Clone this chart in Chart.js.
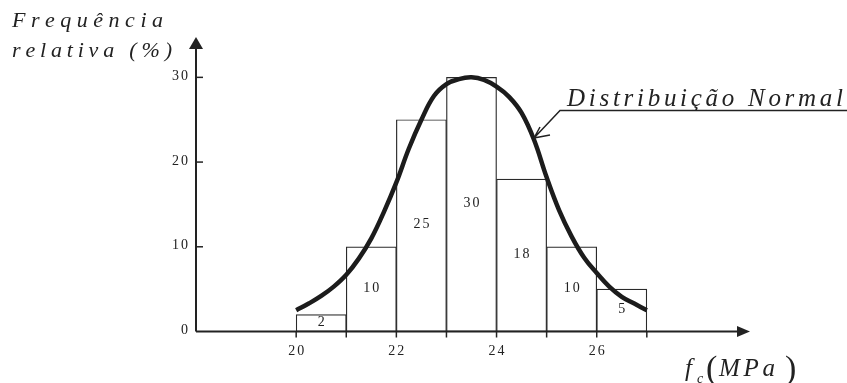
<!DOCTYPE html>
<html>
<head>
<meta charset="utf-8">
<script src="https://cdn.jsdelivr.net/npm/chart.js@4.4.0/dist/chart.umd.min.js"></script>
<style>
  html, body { margin: 0; padding: 0; background: #fff; }
</style>
</head>
<body>
<canvas id="chart" width="847" height="383"></canvas>
<script>
// histogram (fc classes, 1 MPa wide) and the normal curve
const binCenters = [20.5, 21.5, 22.5, 23.5, 24.5, 25.5, 26.5];
const binValues = [2, 10, 25, 30, 18, 10, 5];
const curveX = [20, 20.25, 20.5, 20.75, 21, 21.25, 21.5, 21.75, 22, 22.25, 22.5, 22.75, 23, 23.25, 23.5,
                23.75, 24, 24.25, 24.5, 24.75, 25, 25.25, 25.5, 25.75, 26, 26.25, 26.5, 26.75, 27];
const curveY = [2.5, 3.3, 4.2, 5.3, 6.7, 8.6, 11.0, 14.1, 17.6, 21.6, 25.0, 27.8, 29.2, 29.8, 30,
                29.7, 28.9, 27.7, 25.8, 22.6, 18.2, 14.3, 11.2, 8.7, 6.9, 5.3, 4.1, 3.3, 2.5];
const yTicks = [0, 10, 20, 30];
const xTicks = [20, 21, 22, 23, 24, 25, 26, 27];
const xTickLabels = ['20', '', '22', '', '24', '', '26', ''];

const INK = '#222';
const SERIF = "'Liberation Serif', 'DejaVu Serif', serif";

// draw text one char at a time so we get the wide spacing of the original
function spaced(ctx, str, x, y, gap, align) {
  const chars = [...str];
  let w = 0;
  chars.forEach((ch, i) => { w += ctx.measureText(ch).width + (i < chars.length - 1 ? gap : 0); });
  let cx = x;
  if (align === 'center') cx = x - w / 2;
  if (align === 'right') cx = x - w;
  const saved = ctx.textAlign;
  ctx.textAlign = 'left';
  chars.forEach(ch => { ctx.fillText(ch, cx, y); cx += ctx.measureText(ch).width + gap; });
  ctx.textAlign = saved;
  return w;
}

// same, but spread the letters so the word covers a given width
function spread(ctx, str, x, y, width) {
  const chars = [...str];
  let w = 0;
  chars.forEach(ch => { w += ctx.measureText(ch).width; });
  const gap = (width - w) / (chars.length - 1);
  return spaced(ctx, str, x, y, gap, 'left');
}

const decorations = {
  id: 'decorations',
  afterDraw(chart) {
    const { ctx, chartArea, scales } = chart;
    const xs = scales.x, ys = scales.y;
    const left = chartArea.left, bottom = chartArea.bottom;

    ctx.save();
    ctx.strokeStyle = INK;
    ctx.fillStyle = INK;

    // axes with arrow heads
    ctx.lineWidth = 2;
    ctx.beginPath();
    ctx.moveTo(left, bottom);
    ctx.lineTo(left, chartArea.top + 10);
    ctx.moveTo(left, bottom);
    ctx.lineTo(chartArea.right - 8, bottom);
    ctx.stroke();

    ctx.beginPath();
    ctx.moveTo(left, chartArea.top + 2);
    ctx.lineTo(left - 7, chartArea.top + 14);
    ctx.lineTo(left + 7, chartArea.top + 14);
    ctx.closePath();
    ctx.fill();

    ctx.beginPath();
    ctx.moveTo(chartArea.right + 3, bottom);
    ctx.lineTo(chartArea.right - 10, bottom - 5.5);
    ctx.lineTo(chartArea.right - 10, bottom + 5.5);
    ctx.closePath();
    ctx.fill();

    // y ticks + labels
    ctx.font = '14px ' + SERIF;
    ctx.textBaseline = 'middle';
    ctx.lineWidth = 1.5;
    yTicks.forEach(v => {
      const py = ys.getPixelForValue(v);
      if (v !== 0) {
        ctx.beginPath();
        ctx.moveTo(left, py);
        ctx.lineTo(left + 7, py);
        ctx.stroke();
      }
      spaced(ctx, String(v), left - 8, py - 1, 2, 'right');
    });

    // x ticks + labels
    xTicks.forEach((v, i) => {
      const px = xs.getPixelForValue(v);
      ctx.beginPath();
      ctx.moveTo(px, bottom);
      ctx.lineTo(px, bottom + 6);
      ctx.stroke();
      if (xTickLabels[i]) spaced(ctx, xTickLabels[i], px, bottom + 20, 2, 'center');
    });

    // values inside the bars
    binCenters.forEach((c, i) => {
      const px = xs.getPixelForValue(c);
      const py = ys.getPixelForValue(binValues[i] / 2);
      spaced(ctx, String(binValues[i]), px, py - 1, 2, 'center');
    });

    // y axis title
    ctx.textBaseline = 'alphabetic';
    ctx.font = 'italic 22px ' + SERIF;
    spread(ctx, 'Frequência', 12, 27, 151);
    spread(ctx, 'relativa (%)', 12, 57, 160);

    // curve callout
    ctx.font = 'italic 25px ' + SERIF;
    spread(ctx, 'Distribuição Normal', 567, 106, 276);
    ctx.lineWidth = 1.5;
    ctx.beginPath();
    ctx.moveTo(847, 110.5);
    ctx.lineTo(560, 110.5);
    ctx.lineTo(534, 138);
    ctx.moveTo(534, 138);
    ctx.lineTo(550, 135);
    ctx.moveTo(534, 138);
    ctx.lineTo(540, 127);
    ctx.stroke();

    // x axis title  f_c (MPa)
    ctx.font = 'italic 25px ' + SERIF;
    ctx.fillText('f', 685, 376);
    ctx.font = 'italic 14px ' + SERIF;
    ctx.fillText('c', 697, 383);
    ctx.font = '34px ' + SERIF;
    ctx.fillText('(', 706, 379);
    ctx.font = 'italic 25px ' + SERIF;
    spread(ctx, 'MPa', 719, 376, 56);
    ctx.font = '34px ' + SERIF;
    ctx.fillText(')', 785, 379);

    ctx.restore();
  }
};

new Chart(document.getElementById('chart'), {
  type: 'bar',
  data: {
    datasets: [
      {
        type: 'line',
        data: curveX.map((x, i) => ({ x, y: curveY[i] })),
        borderColor: '#1c1c1c',
        borderWidth: 4.5,
        pointRadius: 0,
        tension: 0.4,
        fill: false,
        order: 0
      },
      {
        type: 'bar',
        data: binCenters.map((x, i) => ({ x, y: binValues[i] })),
        backgroundColor: '#fff',
        borderColor: '#2a2a2a',
        borderWidth: 1.2,
        borderSkipped: false,
        barPercentage: 1,
        categoryPercentage: 1,
        order: 1
      }
    ]
  },
  options: {
    responsive: false,
    devicePixelRatio: 1,
    animation: false,
    layout: { padding: { left: 196, right: 100, top: 35, bottom: 51.5 } },
    plugins: { legend: { display: false }, tooltip: { enabled: false } },
    scales: {
      x: { type: 'linear', min: 18, max: 29, offset: false, display: false },
      y: { min: 0, max: 35, display: false }
    }
  },
  plugins: [decorations]
});
</script>
</body>
</html>
